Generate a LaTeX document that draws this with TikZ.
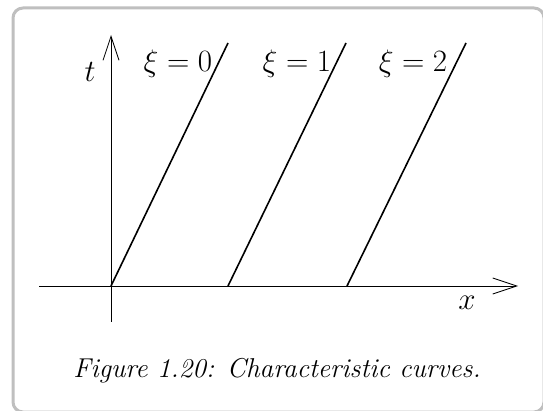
\RequirePackage{fix-cm}
\documentclass[tikz,border=0pt]{standalone}
\usetikzlibrary{arrows.meta}
\begin{document}
\begin{tikzpicture}[x=1pt,y=-1pt,
  frame/.style={draw=black!25,line width=3pt,rounded corners=10pt},
  axis/.style={line width=0.8pt,-{Straight Barb[length=24pt,width=16pt,line width=0.8pt]}},
  charline/.style={line width=1.6pt},
  lab/.style={inner sep=0pt,font=\fontsize{31}{37}\selectfont},
  captext/.style={inner sep=0pt,font=\fontsize{24.88}{30}\selectfont\itshape}]
\useasboundingbox (0,0) rectangle (543,411);
\draw[frame] (13,8) rectangle (544,412);
% axes
\coordinate (xs) at (39,286);
\coordinate (xe) at (518,286);
\coordinate (ys) at (111,322);
\coordinate (ye) at (111,35);
\draw[axis] (xs) -- (xe);
\draw[axis] (ys) -- (ye);
% characteristic lines
\coordinate (a0) at (111,286); \coordinate (b0) at (228,43);
\coordinate (a1) at (228,286); \coordinate (b1) at (346,43);
\coordinate (a2) at (347,286); \coordinate (b2) at (466,43);
\draw[charline] (a0) -- (b0);
\draw[charline] (a1) -- (b1);
\draw[charline] (a2) -- (b2);
% labels
\node[lab,anchor=base] (l0) at (178,72) {$\xi = 0$};
\node[lab,anchor=base] (l1) at (297,72) {$\xi = 1$};
\node[lab,anchor=base] (l2) at (413,72) {$\xi = 2$};
\node[lab,anchor=base] (tl) at (90,82) {$t$};
\node[lab,anchor=base] (xl) at (467,310) {$x$};
\node[captext,anchor=base] (caption) at (277,377) {\scalebox{1.095}{Figure 1.20: Characteristic curves.}};
\end{tikzpicture}
\end{document}
